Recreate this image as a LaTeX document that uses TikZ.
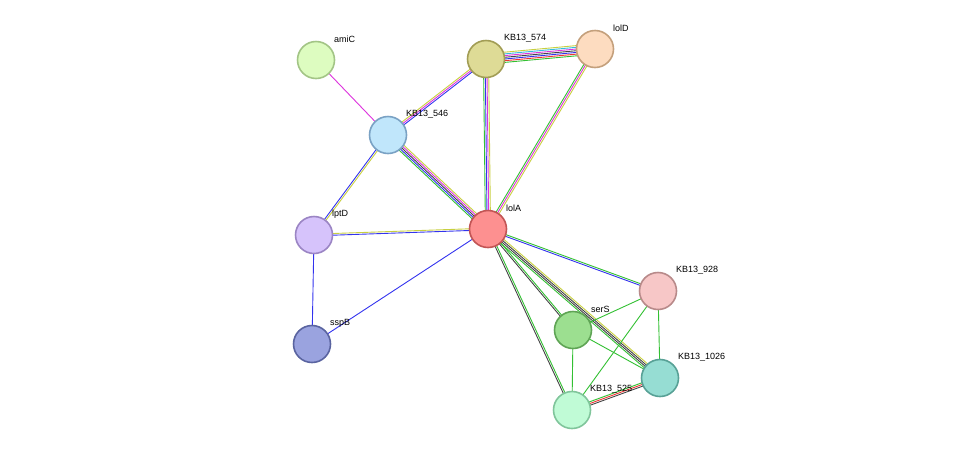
\documentclass[tikz,border=0pt]{standalone}
\usepackage{fontspec}
\setmainfont{Liberation Sans}
\usetikzlibrary{calc}
\pgfdeclarelayer{bg}\pgfsetlayers{bg,main}
\definecolor{eg}{HTML}{33C033}
\definecolor{eb}{HTML}{3333EE}
\definecolor{em}{HTML}{DD33DD}
\definecolor{ey}{HTML}{C8D040}
\definecolor{ek}{HTML}{444444}
\definecolor{er}{HTML}{EE3333}
\definecolor{ec}{HTML}{33BBDD}
\definecolor{f1}{HTML}{DDFCC0}\definecolor{d1}{HTML}{A3C586}
\definecolor{f2}{HTML}{DEDB96}\definecolor{d2}{HTML}{A29D55}
\definecolor{f3}{HTML}{FDDCC0}\definecolor{d3}{HTML}{C4A07C}
\definecolor{f4}{HTML}{C0E6FB}\definecolor{d4}{HTML}{7AA2C4}
\definecolor{f5}{HTML}{FD9090}\definecolor{d5}{HTML}{C25555}
\definecolor{f6}{HTML}{D6C3FB}\definecolor{d6}{HTML}{9B85C4}
\definecolor{f7}{HTML}{9AA3DF}\definecolor{d7}{HTML}{5A64A0}
\definecolor{f8}{HTML}{F7C7C7}\definecolor{d8}{HTML}{B88A8A}
\definecolor{f9}{HTML}{9CDF90}\definecolor{d9}{HTML}{5FA455}
\definecolor{f10}{HTML}{96DDD3}\definecolor{d10}{HTML}{58A196}
\definecolor{f11}{HTML}{C0FBD6}\definecolor{d11}{HTML}{80C59B}
\tikzset{
  prot/.style={circle,minimum size=37pt,inner sep=0pt,line width=1.6pt,fill=f#1,draw=d#1},
  lab/.style={anchor=west,font=\fontsize{9}{10}\selectfont,inner sep=0pt},
  ed/.style={line width=0.9pt}
}
\newcommand\medge[3]{%
  \begin{pgfonlayer}{bg}
  \def\n{0}\foreach \c in {#3}{\global\edef\n{\the\numexpr\n+1\relax}}%
  \foreach \c [count=\i] in {#3}{%
    \pgfmathsetmacro\d{(\i-(\n+1)/2)*1.7}%
    \draw[ed,\c] ($(#1)!\d pt!90:(#2)$) -- ($(#2)!\d pt!-90:(#1)$);}
  \end{pgfonlayer}}
\begin{document}
\begin{tikzpicture}[x=1pt,y=-1pt]
\useasboundingbox (0,0) rectangle (976,456);
\node[prot=1] (amiC) at (316,60) {};
\node[prot=2] (k574) at (486,59) {};
\node[prot=3] (lolD) at (595,49) {};
\node[prot=4] (k546) at (388,135) {};
\node[prot=5] (lolA) at (488,229) {};
\node[prot=6] (lptD) at (314,235) {};
\node[prot=7] (sspB) at (312,344) {};
\node[prot=8] (k928) at (658,291) {};
\node[prot=9] (serS) at (573,330) {};
\node[prot=10] (k1026) at (660,378) {};
\node[prot=11] (k525) at (572,410) {};
\node[lab] (l1) at (334,39) {amiC};
\node[lab] (l2) at (504,38) {KB13\_574};
\node[lab] (l3) at (613,28) {lolD};
\node[lab] (l4) at (406,114) {KB13\_546};
\node[lab] (l5) at (506,208) {lolA};
\node[lab] (l6) at (332,214) {lptD};
\node[lab] (l7) at (330,323) {sspB};
\node[lab] (l8) at (676,270) {KB13\_928};
\node[lab] (l9) at (591,309) {serS};
\node[lab] (l10) at (678,357) {KB13\_1026};
\node[lab] (l11) at (590,389) {KB13\_525};
\medge{amiC}{k546}{em}
\medge{k546}{k574}{eb,em,ey}
\medge{k574}{lolD}{eg,er,eb,ek,em,ec,ey}
\medge{k574}{lolA}{eg,eb,em,ey}
\medge{lolD}{lolA}{eg,em,ey}
\medge{k546}{lolA}{eg,eb,ek,em,ey}
\medge{k546}{lptD}{eb,ey}
\medge{lptD}{lolA}{eb,ey}
\medge{lptD}{sspB}{eb}
\medge{sspB}{lolA}{eb}
\medge{lolA}{k928}{eb,eg}
\medge{lolA}{serS}{ek,eg}
\medge{lolA}{k1026}{eg,ek,ek,ey}
\medge{lolA}{k525}{ek,eg}
\medge{serS}{k928}{eg}
\medge{serS}{k1026}{eg}
\medge{serS}{k525}{eg}
\medge{k928}{k1026}{eg}
\medge{k928}{k525}{eg}
\medge{k525}{k1026}{ek,er,eg}
\end{tikzpicture}
\end{document}
